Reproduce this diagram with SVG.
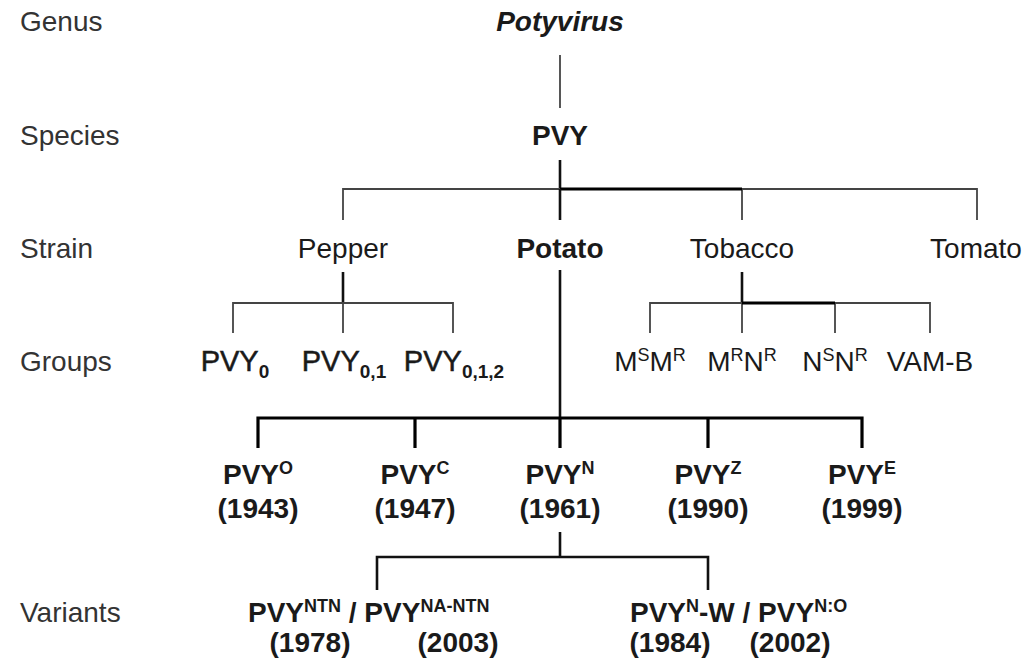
<svg xmlns="http://www.w3.org/2000/svg" width="1030" height="663" viewBox="0 0 1030 663">
<style>
text{font-family:"Liberation Sans",Arial,sans-serif;fill:#1a1a1a;font-size:28px}
.lab{fill:#333}
.b{font-weight:bold}
.bi{font-weight:bold;font-style:italic}
.c{text-anchor:middle}
.s{font-size:18px}
.g{font-size:29px;stroke:#1a1a1a;stroke-width:0.5}
.gs{font-size:19px;font-weight:bold}
.thin{stroke:#444;stroke-width:1.8;fill:none}
.thick{stroke:#000;stroke-width:3.2;fill:none}
.med{stroke:#111;stroke-width:2.6;fill:none}
</style>
<rect width="1030" height="663" fill="#fff"/>
<g id="row-labels">
<text class="lab" x="20" y="31">Genus</text>
<text class="lab" x="20" y="145">Species</text>
<text class="lab" x="20" y="258">Strain</text>
<text class="lab" x="20" y="371">Groups</text>
<text class="lab" x="20" y="622">Variants</text>
</g>
<g id="connectors">
<path class="thin" d="M560 55V108"/>
<path class="med" d="M560 160V190"/>
<path class="thin" d="M343 220V189H977V220M742 189V220"/>
<path class="thick" d="M560 189H742"/>
<path class="med" d="M560 189V220"/>
<path class="med" d="M343 272V303"/>
<path class="thin" d="M233 333V303H453V333M343 303V333"/>
<path class="med" d="M742 272V303"/>
<path class="thin" d="M650 333V303H930V333M742 303V333M835 303V333"/>
<path class="thick" d="M742 303H835"/>
<path class="med" d="M560 270V418"/>
<path class="thick" d="M258 448V418H862V448M415 418V448M560 418V448M708 418V448"/>
<path class="med" d="M560 532V557M377 590V557H708V590"/>
</g>
<g id="n-potyvirus"><text class="bi c" x="560" y="31">Potyvirus</text></g>
<g id="n-pvy"><text class="b c" x="560" y="145">PVY</text></g>
<g id="n-pepper"><text class="c" x="343" y="258">Pepper</text></g>
<g id="n-potato"><text class="b c" x="560" y="258">Potato</text></g>
<g id="n-tobacco"><text class="c" x="742" y="258">Tobacco</text></g>
<g id="n-tomato"><text class="c" x="976" y="258">Tomato</text></g>
<g id="n-pvy0"><text class="g c" x="235" y="371">PVY<tspan class="gs" dy="7" stroke-width="0">0</tspan></text></g>
<g id="n-pvy01"><text class="g c" x="344" y="371">PVY<tspan class="gs" dy="7" stroke-width="0">0,1</tspan></text></g>
<g id="n-pvy012"><text class="g c" x="454" y="371">PVY<tspan class="gs" dy="7" stroke-width="0">0,1,2</tspan></text></g>
<g id="n-msmr"><text class="c" x="650" y="371">M<tspan class="s" dy="-10">S</tspan><tspan dy="10">M</tspan><tspan class="s" dy="-10">R</tspan></text></g>
<g id="n-mrnr"><text class="c" x="742" y="371">M<tspan class="s" dy="-10">R</tspan><tspan dy="10">N</tspan><tspan class="s" dy="-10">R</tspan></text></g>
<g id="n-nsnr"><text class="c" x="835" y="371">N<tspan class="s" dy="-10">S</tspan><tspan dy="10">N</tspan><tspan class="s" dy="-10">R</tspan></text></g>
<g id="n-vamb"><text class="c" x="930" y="371">VAM-B</text></g>
<g id="n-pvyo"><text class="b c" x="258" y="484">PVY<tspan class="s" dy="-10">O</tspan></text><text class="b c" x="258" y="518">(1943)</text></g>
<g id="n-pvyc"><text class="b c" x="415" y="484">PVY<tspan class="s" dy="-10">C</tspan></text><text class="b c" x="415" y="518">(1947)</text></g>
<g id="n-pvyn"><text class="b c" x="560" y="484">PVY<tspan class="s" dy="-10">N</tspan></text><text class="b c" x="560" y="518">(1961)</text></g>
<g id="n-pvyz"><text class="b c" x="708" y="484">PVY<tspan class="s" dy="-10">Z</tspan></text><text class="b c" x="708" y="518">(1990)</text></g>
<g id="n-pvye"><text class="b c" x="862" y="484">PVY<tspan class="s" dy="-10">E</tspan></text><text class="b c" x="862" y="518">(1999)</text></g>
<g id="n-ntn"><text class="b" x="248" y="622">PVY<tspan class="s" dy="-10">NTN</tspan><tspan dy="10"> / PVY</tspan><tspan class="s" dy="-10">NA-NTN</tspan></text><text class="b c" x="310" y="652">(1978)</text><text class="b c" x="458" y="652">(2003)</text></g>
<g id="n-nw"><text class="b" x="630" y="622">PVY<tspan class="s" dy="-10">N</tspan><tspan dy="10">-W / PVY</tspan><tspan class="s" dy="-10">N:O</tspan></text><text class="b c" x="670" y="652">(1984)</text><text class="b c" x="790" y="652">(2002)</text></g>
</svg>
